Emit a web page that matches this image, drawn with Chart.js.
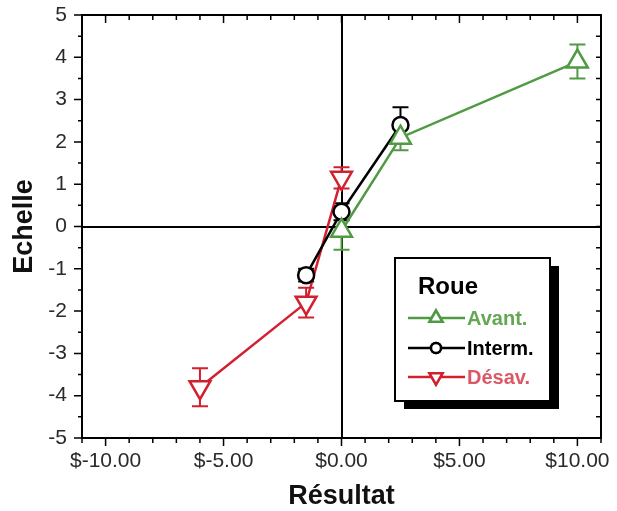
<!DOCTYPE html>
<html lang="fr">
<head>
<meta charset="UTF-8">
<title>Echelle / Résultat</title>
<script src="https://cdn.jsdelivr.net/npm/chart.js"></script>
<style>
    body { margin: 0; background: #fff; }
    #cadre { width: 617px; height: 511px; }
</style>
</head>
<body>
<div id="cadre"><canvas id="grafica"></canvas></div>
<script>
    // valeurs
    const avantX = [0, 2.5, 10];
    const avantY = [-0.1, 2.1, 3.9];
    const avantErr = [0.45, 0.3, 0.4];

    const intermX = [-1.5, 0, 2.5];
    const intermY = [-1.15, 0.35, 2.4];
    const intermErr = [0.15, 0.2, 0.42];

    const desavX = [-6, -1.5, 0];
    const desavY = [-3.8, -1.8, 1.15];
    const desavErr = [0.45, 0.35, 0.25];

    const series = ["Avant.", "Interm.", "Désav."];
    const xMin = -11, xMax = 11, yMin = -5, yMax = 5;

    const vert = "#4f9a42", noir = "#000000", rouge = "#d2202e";
    const police = "'Liberation Sans', Arial, sans-serif";

    function pts(xs, ys) {
        return xs.map((x, i) => ({ x: x, y: ys[i] }));
    }

    // barres d'erreur, sous les marqueurs
    const barresErreur = {
        id: "barresErreur",
        beforeDatasetsDraw(chart) {
            const ctx = chart.ctx;
            const sx = chart.scales.x, sy = chart.scales.y;
            chart.data.datasets.forEach(ds => {
                ctx.save();
                ctx.strokeStyle = ds.borderColor;
                ctx.lineWidth = 2;
                ds.data.forEach((p, i) => {
                    const e = ds.err[i];
                    const px = sx.getPixelForValue(p.x);
                    const y1 = sy.getPixelForValue(p.y + e);
                    const y2 = sy.getPixelForValue(p.y - e);
                    ctx.beginPath();
                    ctx.moveTo(px, y1); ctx.lineTo(px, y2);
                    ctx.moveTo(px - 8, y1); ctx.lineTo(px + 8, y1);
                    ctx.moveTo(px - 8, y2); ctx.lineTo(px + 8, y2);
                    ctx.stroke();
                });
                ctx.restore();
            });
        }
    };

    // cadre et graduations
    const cadre = {
        id: "cadre",
        afterDatasetsDraw(chart) {
            const ctx = chart.ctx;
            const a = chart.chartArea;
            const sx = chart.scales.x, sy = chart.scales.y;
            ctx.save();
            ctx.strokeStyle = "#000";
            ctx.lineWidth = 2;
            ctx.strokeRect(a.left, a.top, a.right - a.left, a.bottom - a.top);
            ctx.lineWidth = 1.5;
            ctx.beginPath();
            for (let v = xMin; v <= xMax; v++) {
                const px = sx.getPixelForValue(v);
                const major = v % 5 === 0;
                ctx.moveTo(px, a.bottom); ctx.lineTo(px, a.bottom + (major ? 8 : 5));
                ctx.moveTo(px, a.top); ctx.lineTo(px, a.top + (major ? 8 : 5));
            }
            for (let v = yMin; v <= yMax; v += 0.5) {
                const py = sy.getPixelForValue(v);
                const major = Number.isInteger(v);
                ctx.moveTo(a.left, py); ctx.lineTo(a.left - (major ? 8 : 4), py);
                ctx.moveTo(a.right, py); ctx.lineTo(a.right - 5, py);
            }
            ctx.stroke();
            ctx.restore();
        }
    };

    // légende encadrée avec ombre
    const legende = {
        id: "legende",
        afterDraw(chart) {
            const ctx = chart.ctx;
            const bx = 395, by = 258, bw = 155, bh = 143;
            ctx.save();
            ctx.fillStyle = "#000";
            ctx.fillRect(bx + 9, by + 8, bw, bh);
            ctx.fillStyle = "#fff";
            ctx.fillRect(bx, by, bw, bh);
            ctx.strokeStyle = "#000";
            ctx.lineWidth = 2;
            ctx.strokeRect(bx, by, bw, bh);

            ctx.fillStyle = "#000";
            ctx.font = "bold 24px " + police;
            ctx.textBaseline = "alphabetic";
            ctx.fillText("Roue", 418, 294);

            const couleursTexte = ["#62a853", "#000000", "#dc5866"];
            const rangs = [318, 348, 377];
            ctx.font = "bold 20px " + police;
            ctx.textBaseline = "middle";
            chart.data.datasets.forEach((ds, i) => {
                const y = rangs[i];
                ctx.strokeStyle = ds.borderColor;
                ctx.lineWidth = 2.5;
                ctx.beginPath();
                ctx.moveTo(408, y); ctx.lineTo(465, y);
                ctx.stroke();
                Chart.helpers.drawPoint(ctx, {
                    pointStyle: ds.pointStyle,
                    rotation: ds.rotation || 0,
                    radius: i === 1 ? 5 : 7.5,
                    borderWidth: 2.5
                }, 436, y);
                ctx.fillStyle = "#fff";
                ctx.fill();
                ctx.stroke();
                ctx.fillStyle = couleursTexte[i];
                ctx.fillText(series[i], 467, y + 1);
            });
            ctx.restore();
        }
    };

    const $grafica = document.querySelector("#grafica");
    new Chart($grafica, {
        type: "scatter",
        data: {
            datasets: [
                {
                    label: series[0],
                    data: pts(avantX, avantY),
                    err: avantErr,
                    borderColor: vert,
                    pointStyle: "triangle",
                    pointRadius: 12
                },
                {
                    label: series[1],
                    data: pts(intermX, intermY),
                    err: intermErr,
                    borderColor: noir,
                    pointStyle: "circle",
                    pointRadius: 8
                },
                {
                    label: series[2],
                    data: pts(desavX, desavY),
                    err: desavErr,
                    borderColor: rouge,
                    pointStyle: "triangle",
                    rotation: 180,
                    pointRadius: 12
                }
            ].map(ds => Object.assign(ds, {
                showLine: true,
                borderWidth: 2.5,
                pointBorderColor: ds.borderColor,
                pointBackgroundColor: "#fff",
                pointBorderWidth: 2.5,
                pointRotation: ds.rotation || 0,
                pointHoverRadius: ds.pointRadius
            }))
        },
        options: {
            responsive: true,
            maintainAspectRatio: false,
            animation: false,
            layout: { padding: { top: 15, right: 16, left: 0, bottom: 0 } },
            plugins: {
                legend: { display: false },
                tooltip: { enabled: false }
            },
            scales: {
                x: {
                    type: "linear",
                    min: xMin,
                    max: xMax,
                    afterFit(scale) {
                        scale.height = 73;
                        scale.paddingLeft = 0;
                        scale.paddingRight = 0;
                    },
                    ticks: {
                        stepSize: 1,
                        autoSkip: false,
                        maxRotation: 0,
                        padding: 11,
                        color: "#2a2a2a",
                        font: { family: police, size: 21 },
                        callback: v => (v % 5 === 0 ? "$" + v.toFixed(2) : "")
                    },
                    grid: {
                        drawTicks: false,
                        lineWidth: 2,
                        color: c => (c.tick && c.tick.value === 0 ? "#000" : "rgba(0,0,0,0)")
                    },
                    border: { display: false },
                    title: {
                        display: true,
                        text: "Résultat",
                        color: "#111",
                        padding: 0,
                        font: { family: police, size: 27, weight: "bold", lineHeight: 1.1 }
                    }
                },
                y: {
                    min: yMin,
                    max: yMax,
                    afterFit(scale) {
                        scale.width = 82;
                        scale.paddingTop = 0;
                        scale.paddingBottom = 0;
                    },
                    ticks: {
                        stepSize: 1,
                        autoSkip: false,
                        padding: 15,
                        color: "#2a2a2a",
                        font: { family: police, size: 21 },
                        callback: v => (Number.isInteger(v) ? String(v) : "")
                    },
                    grid: {
                        drawTicks: false,
                        lineWidth: 2,
                        color: c => (c.tick && c.tick.value === 0 ? "#000" : "rgba(0,0,0,0)")
                    },
                    border: { display: false },
                    title: {
                        display: true,
                        text: "Echelle",
                        color: "#111",
                        padding: { top: 10, bottom: 0 },
                        font: { family: police, size: 27, weight: "bold", lineHeight: 1.1 }
                    }
                }
            }
        },
        plugins: [barresErreur, cadre, legende]
    });
</script>
</body>
</html>
